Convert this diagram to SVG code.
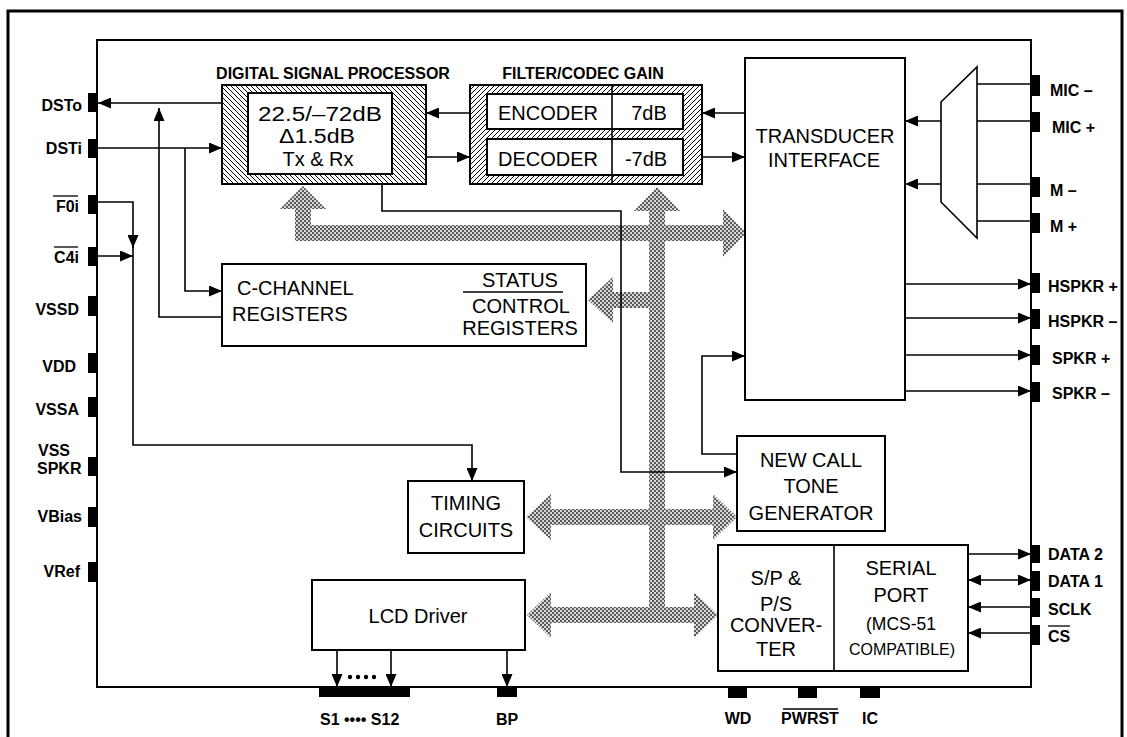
<svg xmlns="http://www.w3.org/2000/svg" width="1127" height="737" viewBox="0 0 1127 737">
<style>
.box{fill:#fff;stroke:#000;stroke-width:2}
.ln{fill:none;stroke:#000;stroke-width:1.6}
.arr{fill:none;stroke:#000;stroke-width:1.6;marker-end:url(#ah)}
.arr2{fill:none;stroke:#000;stroke-width:1.6;marker-end:url(#ah);marker-start:url(#ahs)}
.pin{fill:#000}
.pl{font-family:"Liberation Sans",Arial,sans-serif;font-weight:bold;font-size:16px;fill:#000}
.plr{font-family:"Liberation Sans",Arial,sans-serif;font-weight:bold;font-size:16px;fill:#000;text-anchor:end}
.tl{font-family:"Liberation Sans",Arial,sans-serif;font-weight:bold;font-size:16px;fill:#000;text-anchor:middle}
.t{font-family:"Liberation Sans",Arial,sans-serif;font-size:20px;fill:#000;text-anchor:middle}
.tlft{font-family:"Liberation Sans",Arial,sans-serif;font-size:20px;fill:#000}
.bus{fill:url(#ht)}
.ol{stroke:#000;stroke-width:1.3}
</style>
<defs>
<marker id="ah" viewBox="0 0 13 11" refX="13" refY="5.5" markerWidth="13" markerHeight="11" orient="auto" markerUnits="userSpaceOnUse"><path d="M0,0 L13,5.5 L0,11 z" fill="#000"/></marker>
<marker id="ahs" viewBox="0 0 13 11" refX="13" refY="5.5" markerWidth="13" markerHeight="11" orient="auto-start-reverse" markerUnits="userSpaceOnUse"><path d="M0,0 L13,5.5 L0,11 z" fill="#000"/></marker>
<pattern id="hb" patternUnits="userSpaceOnUse" width="5" height="5"><rect width="5" height="5" fill="#fff"/><path d="M-1,-1 L6,6 M-1,4 L1,6 M4,-1 L6,1" stroke="#000" stroke-width="1"/></pattern>
<pattern id="hf" patternUnits="userSpaceOnUse" width="5" height="5"><rect width="5" height="5" fill="#fff"/><path d="M-1,6 L6,-1 M-1,1 L1,-1 M4,6 L6,4" stroke="#000" stroke-width="1"/></pattern>
<pattern id="ht" patternUnits="userSpaceOnUse" width="4" height="4"><rect width="4" height="4" fill="#d8d8d8"/><rect width="2" height="2" fill="#5a5a5a"/><rect x="2" y="2" width="2" height="2" fill="#5a5a5a"/></pattern>
</defs>
<rect width="1127" height="737" fill="#fff"/>
<path d="M8,740 V11 H1122 V740" fill="none" stroke="#000" stroke-width="3"/>
<g id="chip"><rect x="97" y="40" width="934" height="647" fill="none" stroke="#000" stroke-width="2"/></g>

<g id="pins">
<rect class="pin" x="88" y="93" width="10" height="19"/>
<rect class="pin" x="88" y="139" width="10" height="19"/>
<rect class="pin" x="88" y="195" width="10" height="19"/>
<rect class="pin" x="88" y="247" width="10" height="19"/>
<rect class="pin" x="88" y="296" width="10" height="20"/>
<rect class="pin" x="88" y="353" width="10" height="20"/>
<rect class="pin" x="88" y="397" width="10" height="20"/>
<rect class="pin" x="88" y="457" width="10" height="19"/>
<rect class="pin" x="88" y="507" width="10" height="20"/>
<rect class="pin" x="88" y="562" width="10" height="20"/>
<text class="plr" x="82" y="111">DSTo</text>
<text class="plr" x="82" y="154">DSTi</text>
<text class="plr" x="79" y="212">F0i</text>
<line class="ol" x1="53" y1="196" x2="78" y2="196"/>
<text class="plr" x="79" y="263">C4i</text>
<line class="ol" x1="54" y1="247" x2="78" y2="247"/>
<text class="plr" x="79" y="315">VSSD</text>
<text class="plr" x="76" y="372">VDD</text>
<text class="plr" x="79" y="415">VSSA</text>
<text class="pl" x="38" y="456">VSS</text>
<text class="pl" x="37" y="474">SPKR</text>
<text class="plr" x="82" y="522">VBias</text>
<text class="plr" x="80" y="577">VRef</text>

<rect class="pin" x="1030" y="75" width="10" height="21"/>
<rect class="pin" x="1030" y="112" width="10" height="20"/>
<rect class="pin" x="1030" y="177" width="10" height="20"/>
<rect class="pin" x="1030" y="213" width="10" height="20"/>
<rect class="pin" x="1030" y="273" width="10" height="20"/>
<rect class="pin" x="1030" y="309" width="10" height="20"/>
<rect class="pin" x="1030" y="345" width="10" height="20"/>
<rect class="pin" x="1030" y="382" width="10" height="20"/>
<rect class="pin" x="1030" y="545" width="10" height="18"/>
<rect class="pin" x="1030" y="571" width="10" height="20"/>
<rect class="pin" x="1030" y="598" width="10" height="19"/>
<rect class="pin" x="1030" y="625" width="10" height="20"/>
<text class="pl" x="1050" y="96">MIC –</text>
<text class="pl" x="1052" y="133">MIC +</text>
<text class="pl" x="1050" y="196">M –</text>
<text class="pl" x="1050" y="232">M +</text>
<text class="pl" x="1048" y="292">HSPKR +</text>
<text class="pl" x="1048" y="327">HSPKR –</text>
<text class="pl" x="1052" y="364">SPKR +</text>
<text class="pl" x="1052" y="399">SPKR –</text>
<text class="pl" x="1048" y="560">DATA 2</text>
<text class="pl" x="1048" y="587">DATA 1</text>
<text class="pl" x="1048" y="615">SCLK</text>
<text class="pl" x="1048" y="642">CS</text>
<line class="ol" x1="1048" y1="626" x2="1070" y2="626"/>

<rect class="pin" x="319" y="687" width="91" height="10"/>
<rect class="pin" x="497" y="687" width="20" height="10"/>
<rect class="pin" x="728" y="687" width="19" height="11"/>
<rect class="pin" x="798" y="687" width="19" height="11"/>
<rect class="pin" x="860" y="687" width="20" height="11"/>
<text class="pl" x="320" y="725">S1 •••• S12</text>
<text class="tl" x="507" y="725">BP</text>
<text class="tl" x="738" y="724">WD</text>
<text class="tl" x="810" y="724">PWRST</text>
<line class="ol" x1="783" y1="709" x2="838" y2="709"/>
<text class="tl" x="870" y="724">IC</text>
</g>

<g id="buses">
<polygon class="bus" points="303,186 326,209 311,209 311,225 723,225 723,209 746,233 723,257 723,241 295,241 295,209 280,209"/>
<polygon class="bus" points="657,187 680,211 665,211 665,623 649,623 649,211 634,211"/>
<polygon class="bus" points="588,300 613,277 613,292 657,292 657,308 613,308 613,323"/>
<polygon class="bus" points="526,517 551,494 551,509 713,509 713,494 737,517 713,540 713,525 551,525 551,540"/>
<polygon class="bus" points="527,615 551,592 551,607 694,607 694,592 718,615 694,638 694,623 551,623 551,638"/>
</g>

<g id="dsp">
<text class="tl" x="333" y="79">DIGITAL SIGNAL PROCESSOR</text>
<rect x="222" y="85" width="204" height="99" fill="url(#hb)" stroke="#000" stroke-width="2"/>
<rect class="box" x="248" y="93" width="144" height="81"/>
<text class="t" x="320" y="121" textLength="124" lengthAdjust="spacingAndGlyphs">22.5/–72dB</text>
<text class="t" x="317" y="143" textLength="76" lengthAdjust="spacingAndGlyphs">Δ1.5dB</text>
<text class="t" x="318" y="166">Tx &amp; Rx</text>
</g>

<g id="codec">
<text class="tl" x="583" y="79">FILTER/CODEC GAIN</text>
<rect x="470" y="85" width="232" height="99" fill="url(#hf)" stroke="#000" stroke-width="2"/>
<rect class="box" x="487" y="94" width="196" height="35"/>
<rect class="box" x="487" y="139" width="196" height="36"/>
<line x1="612" y1="85" x2="612" y2="184" stroke="#000" stroke-width="1.6"/>
<text class="t" x="548" y="120">ENCODER</text>
<text class="t" x="649" y="120">7dB</text>
<text class="t" x="548" y="166">DECODER</text>
<text class="t" x="646" y="166">-7dB</text>
</g>

<g id="transducer">
<rect class="box" x="745" y="58" width="160" height="342"/>
<text class="t" x="825" y="143">TRANSDUCER</text>
<text class="t" x="824" y="167">INTERFACE</text>
</g>

<g id="mux">
<polygon points="941,102 977,67 977,238 941,202" fill="#fff" stroke="#000" stroke-width="1.6"/>
</g>

<g id="cchannel">
<rect class="box" x="222" y="264" width="364" height="82"/>
<text class="tlft" x="237" y="295">C-CHANNEL</text>
<text class="tlft" x="232" y="321">REGISTERS</text>
<text class="t" x="520" y="287">STATUS</text>
<line x1="463" y1="292" x2="563" y2="292" stroke="#000" stroke-width="1.6"/>
<text class="t" x="521" y="313">CONTROL</text>
<text class="t" x="520" y="335">REGISTERS</text>
</g>

<g id="timing">
<rect class="box" x="408" y="481" width="116" height="72"/>
<text class="t" x="466" y="510">TIMING</text>
<text class="t" x="466" y="537">CIRCUITS</text>
</g>

<g id="lcd">
<rect class="box" x="312" y="580" width="213" height="70"/>
<text class="t" x="418" y="623">LCD Driver</text>
</g>

<g id="newcall">
<rect class="box" x="737" y="436" width="148" height="95"/>
<text class="t" x="811" y="467">NEW CALL</text>
<text class="t" x="811" y="493">TONE</text>
<text class="t" x="811" y="520">GENERATOR</text>
</g>

<g id="serial">
<rect class="box" x="718" y="545" width="250" height="126"/>
<line x1="834" y1="545" x2="834" y2="671" stroke="#000" stroke-width="1.6"/>
<text class="t" x="776" y="585">S/P &amp;</text>
<text class="t" x="776" y="611">P/S</text>
<text class="t" x="776" y="632">CONVER-</text>
<text class="t" x="776" y="656">TER</text>
<text class="t" x="901" y="575">SERIAL</text>
<text class="t" x="901" y="602">PORT</text>
<text class="t" x="901" y="630" style="font-size:17.5px">(MCS-51</text>
<text class="t" x="902" y="655" style="font-size:16px">COMPATIBLE)</text>
</g>

<g id="connectors">
<path class="arr" d="M222,103 H98"/>
<path class="arr" d="M98,148 H222"/>
<path class="arr" d="M222,317 H159 V108"/>
<path class="arr" d="M185,148 V291 H222"/>
<path class="arr" d="M98,202 H133 V248"/>
<path class="arr" d="M133,246 V445 H472 V481"/>
<path class="arr" d="M98,256 H133"/>
<path class="arr" d="M470,113 H426"/>
<path class="arr" d="M426,157 H470"/>
<path class="arr" d="M745,113 H702"/>
<path class="arr" d="M702,157 H745"/>
<path class="arr" d="M941,121 H905"/>
<path class="arr" d="M941,184 H905"/>
<path class="ln" d="M1031,84 H977 M1031,121 H977 M1031,184 H977 M1031,221 H977"/>
<path class="arr" d="M905,284 H1031"/>
<path class="arr" d="M905,318 H1031"/>
<path class="arr" d="M905,355 H1031"/>
<path class="arr" d="M905,391 H1031"/>
<path class="arr" d="M382,184 V211 H621 V472 H737"/>
<path class="arr" d="M737,454 H702 V356 H745"/>
<path class="arr" d="M337,650 V687"/>
<path class="arr" d="M391,650 V687"/>
<path class="arr" d="M507,650 V687"/>
<circle cx="350" cy="677" r="2.2"/><circle cx="358" cy="677" r="2.2"/><circle cx="366" cy="677" r="2.2"/><circle cx="374" cy="677" r="2.2"/>
<path class="arr" d="M968,554 H1031"/>
<path class="arr2" d="M968,580 H1031"/>
<path class="arr" d="M1031,607 H968"/>
<path class="arr" d="M1031,633 H968"/>
</g>
</svg>
